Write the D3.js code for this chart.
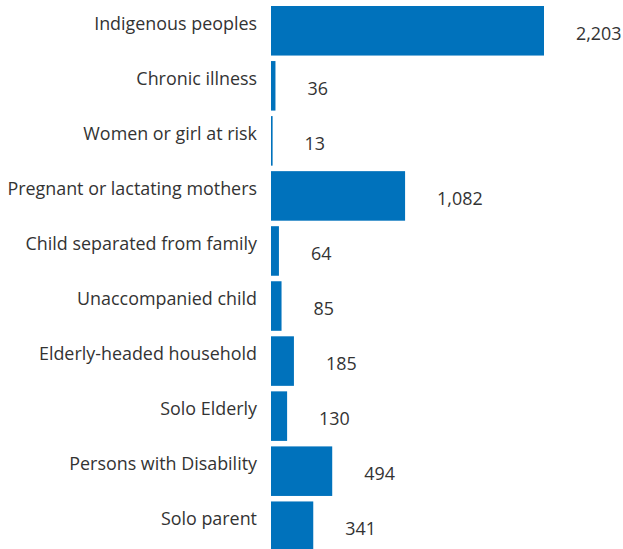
<!DOCTYPE html>
<html>
<head>
<meta charset="utf-8">
<script src="https://cdn.jsdelivr.net/npm/d3@7"></script>
<style>
  body { margin: 0; background: #fff; }
  text { font-family: "Open Sans", sans-serif; fill: #333; }
</style>
</head>
<body>
<svg></svg>
<script>
var width = 623,
    height = 549

var categories = ["Indigenous peoples", "Chronic illness", "Women or girl at risk",
    "Pregnant or lactating mothers", "Child separated from family", "Unaccompanied child",
    "Elderly-headed household", "Solo Elderly", "Persons with Disability", "Solo parent"]
var values = [2203, 36, 13, 1082, 64, 85, 185, 130, 494, 341]

var data = categories.map((c, i) => ({ name: c, value: values[i] }))

var x = d3.scaleLinear().domain([0, 2203]).range([271, 544])
var y = d3.scaleBand().domain(categories).range([6, 551]).paddingInner(0.1)

var svg = d3.select("svg")
    .attr("width", width)
    .attr("height", height)

svg.selectAll(".bar").data(data).enter().append("rect")
    .attr("class", "bar")
    .attr("x", x(0))
    .attr("y", d => y(d.name))
    .attr("width", d => x(d.value) - x(0))
    .attr("height", y.bandwidth())
    .attr("fill", "#0072bc")

svg.selectAll(".cat").data(data).enter().append("text")
    .attr("class", "cat")
    .attr("x", 257)
    .attr("y", d => y(d.name) + 24)
    .attr("text-anchor", "end")
    .style("font-size", "17.9px")
    .text(d => d.name)

var fmt = d3.format(",")
svg.selectAll(".val").data(data).enter().append("text")
    .attr("class", "val")
    .attr("x", d => x(d.value) + 32)
    .attr("y", d => y(d.name) + 34)
    .style("font-size", "17.9px")
    .text(d => fmt(d.value))
</script>
</body>
</html>
